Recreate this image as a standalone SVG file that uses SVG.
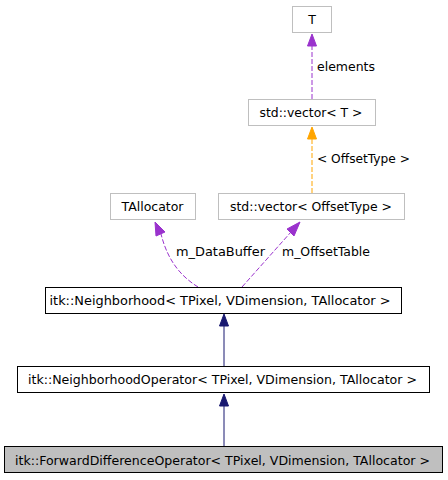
<svg xmlns="http://www.w3.org/2000/svg" width="448" height="480" viewBox="0 0 448 480">
<style>
text{font-family:"DejaVu Sans","Liberation Sans",sans-serif;font-size:12.5px;fill:#000}
.n{text-anchor:middle}
.g{fill:#fff;stroke:#bfbfbf;stroke-width:1}
.b{fill:#fff;stroke:#000;stroke-width:1}
.s{fill:#bfbfbf;stroke:#000;stroke-width:1}
.pl{fill:none;stroke:#9a32cd;stroke-dasharray:5,2}
.pa{fill:#9a32cd;stroke:#9a32cd}
.ol{fill:none;stroke:#ffa500;stroke-dasharray:5,2}
.oa{fill:#ffa500;stroke:#ffa500}
.nl{fill:none;stroke:#191970}
.na{fill:#191970;stroke:#191970}
</style>
<rect width="448" height="480" fill="#fff"/>
<g id="connectors">
<path class="pl" d="M312,99 L312,46"/>
<polygon class="pa" points="312,34 307.5,46 316.5,46"/>
<text x="317" y="71" textLength="58" lengthAdjust="spacingAndGlyphs">elements</text>
<path class="ol" d="M312,193 L312,139"/>
<polygon class="oa" points="312,127 307.5,139 316.5,139"/>
<text x="317" y="163" textLength="93" lengthAdjust="spacingAndGlyphs">&lt; OffsetType &gt;</text>
<path class="pl" d="M198,287 C182,277 168,262 161,234"/>
<polygon class="pa" points="155,222 156,236 165,232"/>
<text x="176" y="256" textLength="89" lengthAdjust="spacingAndGlyphs">m_DataBuffer</text>
<path class="pl" d="M242,287 L291,232"/>
<polygon class="pa" points="300,222 287,229 294,236"/>
<text x="282" y="256" textLength="88" lengthAdjust="spacingAndGlyphs">m_OffsetTable</text>
<path class="nl" d="M224,367 L224,326"/>
<polygon class="na" points="224,314 219.5,326 228.5,326"/>
<path class="nl" d="M224,446 L224,406"/>
<polygon class="na" points="224,394 219.5,406 228.5,406"/>
</g>
<g id="T"><rect class="g" x="292.5" y="6.5" width="39" height="26"/><text class="n" x="312" y="24">T</text></g>
<g id="vectorT"><rect class="g" x="248.5" y="99.5" width="127" height="26"/><text class="n" x="311" y="117" textLength="103" lengthAdjust="spacingAndGlyphs">std::vector&lt; T &gt;</text></g>
<g id="vectorOffset"><rect class="g" x="218.5" y="193.5" width="186" height="26"/><text class="n" x="311" y="211" textLength="162" lengthAdjust="spacingAndGlyphs">std::vector&lt; OffsetType &gt;</text></g>
<g id="TAllocator"><rect class="g" x="110.5" y="193.5" width="85" height="26"/><text class="n" x="152.5" y="211" textLength="62" lengthAdjust="spacingAndGlyphs">TAllocator</text></g>
<g id="Neighborhood"><rect class="b" x="45.5" y="287.5" width="356" height="26"/><text class="n" x="220" y="305" textLength="341" lengthAdjust="spacingAndGlyphs">itk::Neighborhood&lt; TPixel, VDimension, TAllocator &gt;</text></g>
<g id="NeighborhoodOperator"><rect class="b" x="17.5" y="366.5" width="412" height="26"/><text class="n" x="222.5" y="384" textLength="389" lengthAdjust="spacingAndGlyphs">itk::NeighborhoodOperator&lt; TPixel, VDimension, TAllocator &gt;</text></g>
<g id="ForwardDifferenceOperator"><rect class="s" x="4.5" y="446.5" width="438" height="26"/><text class="n" x="222.5" y="464.5" textLength="415" lengthAdjust="spacingAndGlyphs">itk::ForwardDifferenceOperator&lt; TPixel, VDimension, TAllocator &gt;</text></g>
</svg>
